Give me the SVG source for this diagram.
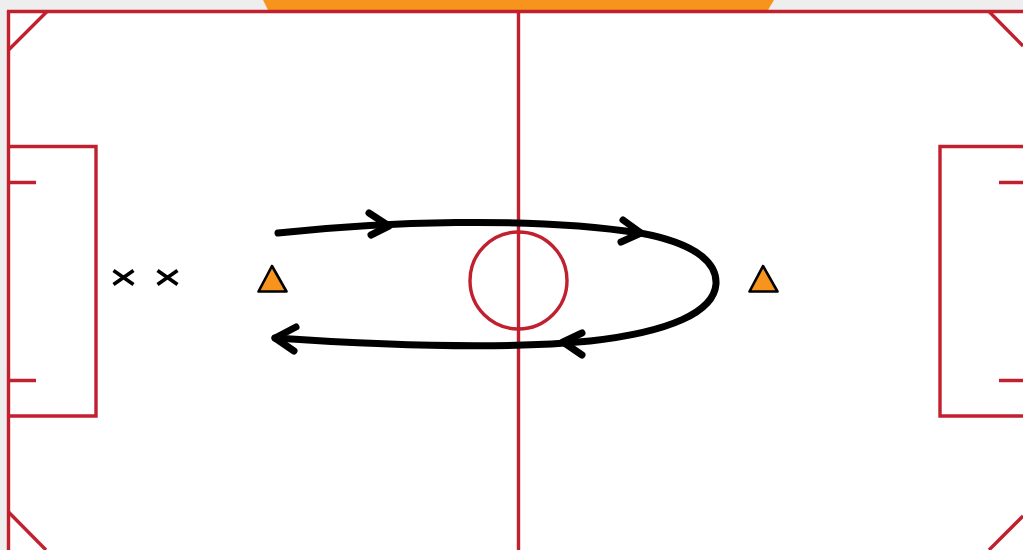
<svg xmlns="http://www.w3.org/2000/svg" width="1023" height="550" viewBox="0 0 1023 550">
<style>
.ln{fill:none;stroke:#c1202f;stroke-width:3.4}
.run{fill:none;stroke:#000;stroke-width:7;stroke-linecap:round;stroke-linejoin:round}
.cone{fill:#f7941d;stroke:#000;stroke-width:2.6;stroke-linejoin:round}
.x{stroke:#000;stroke-width:3.6;stroke-linecap:butt}
</style>
<rect x="0" y="0" width="1023" height="550" fill="#eeeeee"/>
<polygon points="263,0 774,0 768,10 268,10" fill="#f7941d"/>
<rect x="7" y="10" width="1016" height="540" fill="#ffffff"/>
<g id="pitch">
<path class="ln" d="M7,11.5 H1023 M8.5,11 V550"/>
<path class="ln" d="M8.5,50 L47,11.5 M8.5,512 L46,550 M989,11.5 L1023,46 M1023,516 L989,550"/>
<path class="ln" d="M8.5,146.5 H96 V416 H8.5 M8.5,182.5 H36 M8.5,380.5 H36"/>
<path class="ln" d="M1023,146.5 H940 V416 H1023 M1023,182.5 H999 M1023,380.5 H999"/>
<path class="ln" d="M518.5,12 V550"/>
<circle class="ln" cx="518.5" cy="280.5" r="48.5"/>
</g>
<g id="players">
<path class="x" d="M113.5,270.5 L133.5,284.5 M113.5,284.5 L133.5,270.5"/>
<path class="x" d="M157.5,270.5 L177.5,284.5 M157.5,284.5 L177.5,270.5"/>
</g>
<g id="cone-left"><polygon class="cone" points="272,266 258.5,291.5 286.5,291.5"/></g>
<g id="cone-right"><polygon class="cone" points="763,266 749.5,291.5 777.5,291.5"/></g>
<g id="connectors">
<path class="run" d="M278,233 C380,222 530,216 640,233 C700,244 717,265 716,284 C714,312 670,332 590,341 C500,350 380,345 275,338"/>
<path class="run" d="M369,213 L389,226 L371,235"/>
<path class="run" d="M623,220 L641,233 L621,242"/>
<path class="run" d="M582,333 L563,342 L582,355"/>
<path class="run" d="M296,327 L275,338 L294,351"/>
</g>
</svg>
